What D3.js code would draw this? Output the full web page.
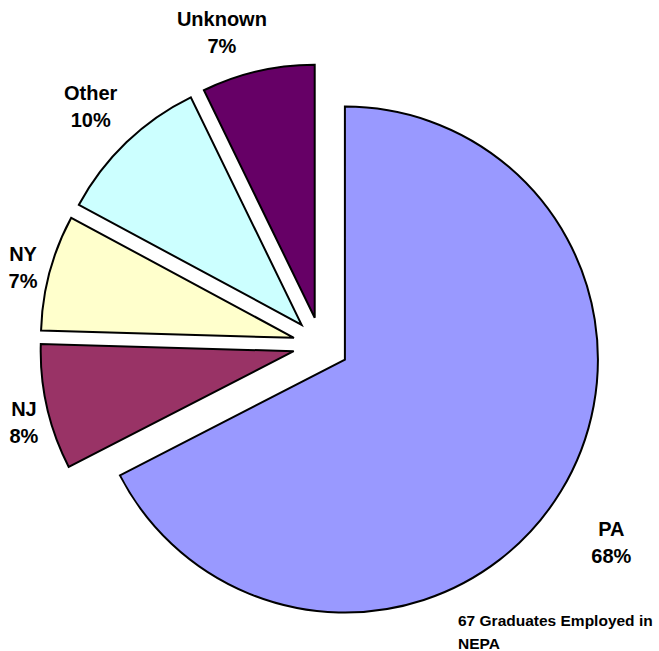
<!DOCTYPE html>
<html>
<head>
<meta charset="utf-8">
<script src="https://cdn.jsdelivr.net/npm/d3@7"></script>
<style>
 body { margin: 0; background: #fff; }
 text { font-family: "Liberation Sans", Arial, sans-serif; font-weight: bold; fill: #000; }
</style>
</head>
<body>
<div id="pie-chart"></div>
<script>
var w = 659;
var h = 651;

var states = ["PA", "NJ", "NY", "Other", "Unknown"];
var shares = [67.3, 8.0, 7.4, 9.9, 7.2];
var pctLabels = ["68%", "8%", "7%", "10%", "7%"];
var colours = ["#9999FF", "#993366", "#FFFFCC", "#CCFFFF", "#660066"];
var noteLines = ["67 Graduates Employed in", "NEPA"];

var cx = 321, cy = 345;   // pie centre
var r = 253;              // radius
var explode = 28;         // every slice pulled out this far

// label placement around the pie: angle nudge (deg) and distance
var lblNudge = [2.8, -1.8, -0.3, -0.1, -4.6];
var lblDist = [351, 307, 308, 332, 328];

var svg = d3.select("#pie-chart")
 .append("svg")
 .attr("width", w)
 .attr("height", h);

var g = svg.append("g")
 .attr("transform", "translate(" + cx + "," + cy + ")");

var pie = d3.pie().sort(null).value(function(d) { return d.value; });
var arc = d3.arc().innerRadius(0).outerRadius(r);

var data = states.map(function(s, i) {
 return { name: s, value: shares[i], pct: pctLabels[i], colour: colours[i] };
});
var arcs = pie(data);

function mid(d) { return (d.startAngle + d.endAngle) / 2; }

// slices
g.selectAll("path")
 .data(arcs)
 .enter().append("path")
 .attr("d", arc)
 .attr("transform", function(d) {
   var a = mid(d);
   return "translate(" + (Math.sin(a) * explode) + "," + (-Math.cos(a) * explode) + ")";
 })
 .attr("fill", function(d) { return d.data.colour; })
 .attr("stroke", "#000")
 .attr("stroke-width", 2)
 .attr("stroke-linejoin", "miter");

// labels
var labels = g.selectAll("text.lbl")
 .data(arcs)
 .enter().append("text")
 .attr("class", "lbl")
 .attr("text-anchor", "middle")
 .style("font-size", "20px")
 .attr("transform", function(d, i) {
   var a = mid(d) + lblNudge[i] * Math.PI / 180;
   return "translate(" + (Math.sin(a) * lblDist[i]) + "," + (-Math.cos(a) * lblDist[i]) + ")";
 });
labels.append("tspan").attr("x", 0).attr("y", -6).text(function(d) { return d.data.name; });
labels.append("tspan").attr("x", 0).attr("y", 21).text(function(d) { return d.data.pct; });

// footnote
svg.append("text")
 .attr("x", 458)
 .attr("y", 626)
 .style("font-size", "15.5px")
 .selectAll("tspan")
 .data(noteLines)
 .enter().append("tspan")
 .attr("x", 458)
 .attr("dy", function(d, i) { return i == 0 ? 0 : 23; })
 .text(function(d) { return d; });
</script>
</body>
</html>
